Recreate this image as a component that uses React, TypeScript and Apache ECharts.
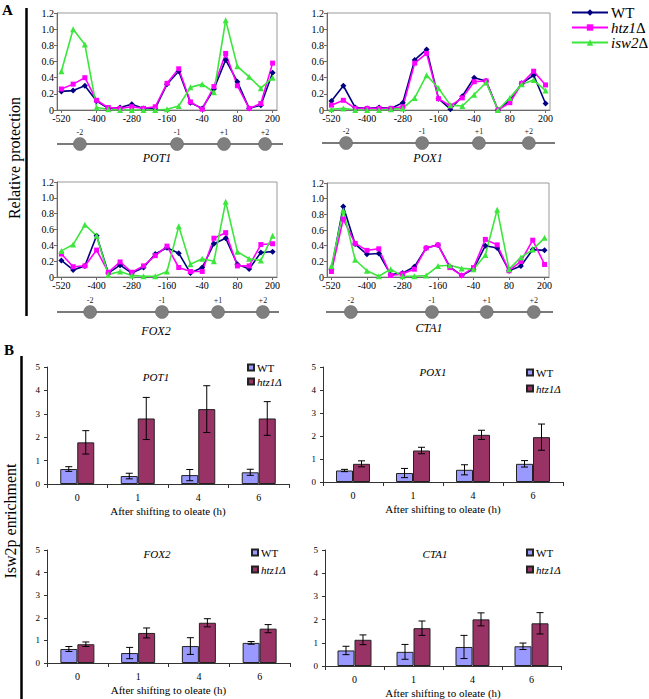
import { useEffect, useRef } from "react";
import * as echarts from "echarts";

// ---------- DATA ----------
const positions = [-520, -480, -440, -400, -360, -320, -280, -240, -200, -160, -120, -80, -40, 0, 40, 80, 120, 160, 200];
const xTickValues = [-520, -400, -280, -160, -40, 80, 200];
const yTickValues = [0, 0.2, 0.4, 0.6, 0.8, 1.0, 1.2];

const pot1WT = [0.23, 0.24, 0.30, 0.11, 0.02, 0.03, 0.07, 0.02, 0.02, 0.32, 0.48, 0.09, 0.02, 0.26, 0.62, 0.35, 0.02, 0.06, 0.46];
const pot1Htz1 = [0.26, 0.32, 0.40, 0.12, 0.03, 0.02, 0.04, 0.02, 0.04, 0.33, 0.51, 0.10, 0.01, 0.29, 0.70, 0.30, 0.02, 0.08, 0.58];
const pot1Isw2 = [0.48, 1.00, 0.81, 0.03, 0.01, 0.00, 0.00, 0.00, 0.00, 0.01, 0.05, 0.28, 0.32, 0.22, 1.11, 0.54, 0.41, 0.27, 0.40];

const pox1WT = [0.11, 0.30, 0.03, 0.02, 0.03, 0.02, 0.09, 0.62, 0.75, 0.14, 0.01, 0.17, 0.40, 0.36, 0.00, 0.12, 0.33, 0.43, 0.08];
const pox1Htz1 = [0.06, 0.12, 0.02, 0.02, 0.02, 0.02, 0.04, 0.58, 0.70, 0.14, 0.05, 0.15, 0.35, 0.36, 0.00, 0.09, 0.33, 0.48, 0.31];
const pox1Isw2 = [0.01, 0.02, 0.00, 0.00, 0.00, 0.01, 0.02, 0.15, 0.43, 0.27, 0.06, 0.05, 0.19, 0.34, 0.00, 0.15, 0.32, 0.37, 0.24];

const fox2WT = [0.21, 0.09, 0.14, 0.52, 0.05, 0.15, 0.05, 0.12, 0.29, 0.37, 0.30, 0.05, 0.12, 0.42, 0.49, 0.16, 0.10, 0.31, 0.32];
const fox2Htz1 = [0.29, 0.13, 0.14, 0.34, 0.06, 0.19, 0.06, 0.14, 0.27, 0.39, 0.12, 0.07, 0.07, 0.49, 0.56, 0.14, 0.14, 0.41, 0.42];
const fox2Isw2 = [0.33, 0.41, 0.66, 0.52, 0.03, 0.07, 0.02, 0.01, 0.01, 0.07, 0.64, 0.16, 0.23, 0.20, 0.95, 0.32, 0.23, 0.21, 0.52];

const cta1WT = [0.10, 0.90, 0.42, 0.29, 0.30, 0.03, 0.05, 0.13, 0.37, 0.41, 0.13, 0.02, 0.10, 0.40, 0.37, 0.08, 0.14, 0.35, 0.34];
const cta1Htz1 = [0.07, 0.74, 0.43, 0.34, 0.36, 0.02, 0.04, 0.10, 0.37, 0.41, 0.12, 0.02, 0.12, 0.48, 0.41, 0.08, 0.20, 0.47, 0.16];
const cta1Isw2 = [0.14, 0.85, 0.22, 0.08, 0.01, 0.10, 0.01, 0.01, 0.02, 0.14, 0.15, 0.11, 0.10, 0.28, 0.86, 0.10, 0.25, 0.35, 0.50];

const nucLabels = ["-2", "-1", "+1", "+2"];
const pot1Nuc = [-457, -126, 34, 174];
const pox1Nuc = [-471, -215, -24, 144];
const fox2Nuc = [-422, -177, 14, 167];
const cta1Nuc = [-454, -180, 5, 164];

const timeCats = ["0", "1", "4", "6"];
const pot1BarWT = [0.64, 0.34, 0.38, 0.5];
const pot1BarWTErr = [0.1, 0.12, 0.24, 0.13];
const pot1BarHtz1 = [1.78, 2.8, 3.2, 2.8];
const pot1BarHtz1Err = [0.5, 0.9, 1.0, 0.72];
const pox1BarWT = [0.5, 0.39, 0.53, 0.79];
const pox1BarWTErr = [0.05, 0.2, 0.22, 0.14];
const pox1BarHtz1 = [0.79, 1.37, 2.05, 1.95];
const pox1BarHtz1Err = [0.13, 0.14, 0.2, 0.57];
const fox2BarWT = [0.62, 0.44, 0.75, 0.89];
const fox2BarWTErr = [0.11, 0.25, 0.37, 0.06];
const fox2BarHtz1 = [0.83, 1.33, 1.78, 1.52];
const fox2BarHtz1Err = [0.1, 0.22, 0.18, 0.18];
const cta1BarWT = [0.67, 0.61, 0.82, 0.85];
const cta1BarWTErr = [0.18, 0.32, 0.5, 0.14];
const cta1BarHtz1 = [1.13, 1.63, 2.01, 1.84];
const cta1BarHtz1Err = [0.21, 0.31, 0.28, 0.46];

// ---------- LAYOUT / STYLE ----------
const SERIF = "'Liberation Serif', 'Times New Roman', serif";
const C_WT = "#000080";
const C_HTZ = "#FF00FF";
const C_ISW = "#3CE63C";
const C_BAR_WT = "#9999FF";
const C_BAR_HTZ = "#993366";

const linePanels = [
  { gene: "POT1", wt: pot1WT, htz: pot1Htz1, isw: pot1Isw2, nuc: pot1Nuc,
    grid: { left: 57, top: 13, width: 220, height: 97 },
    track: { left: 57, width: 226, y: 144, min: -535, max: 235 },
    label: { x: 157, y: 158 } },
  { gene: "POX1", wt: pox1WT, htz: pox1Htz1, isw: pox1Isw2, nuc: pox1Nuc,
    grid: { left: 327, top: 13, width: 223, height: 97 },
    track: { left: 322, width: 233, y: 143, min: -552, max: 232 },
    label: { x: 428, y: 158 } },
  { gene: "FOX2", wt: fox2WT, htz: fox2Htz1, isw: fox2Isw2, nuc: fox2Nuc,
    grid: { left: 57, top: 182, width: 220, height: 95 },
    track: { left: 57, width: 222, y: 312, min: -535, max: 222 },
    label: { x: 156, y: 331 } },
  { gene: "CTA1", wt: cta1WT, htz: cta1Htz1, isw: cta1Isw2, nuc: cta1Nuc,
    grid: { left: 327, top: 183, width: 222, height: 94 },
    track: { left: 326, width: 227, y: 312, min: -538, max: 229 },
    label: { x: 429, y: 328 } },
];

const barPanels = [
  { gene: "POT1", wt: pot1BarWT, wtErr: pot1BarWTErr, htz: pot1BarHtz1, htzErr: pot1BarHtz1Err,
    grid: { left: 47, top: 367, width: 242, height: 117 },
    title: { x: 156, y: 377 }, legend: { left: 247, top: 362, gap: 3 } },
  { gene: "POX1", wt: pox1BarWT, wtErr: pox1BarWTErr, htz: pox1BarHtz1, htzErr: pox1BarHtz1Err,
    grid: { left: 323, top: 367, width: 240, height: 115 },
    title: { x: 433, y: 372 }, legend: { left: 526, top: 367, gap: 5 } },
  { gene: "FOX2", wt: fox2BarWT, wtErr: fox2BarWTErr, htz: fox2BarHtz1, htzErr: fox2BarHtz1Err,
    grid: { left: 47, top: 550, width: 243, height: 113 },
    title: { x: 157, y: 554 }, legend: { left: 251, top: 547, gap: 6 } },
  { gene: "CTA1", wt: cta1BarWT, wtErr: cta1BarWTErr, htz: cta1BarHtz1, htzErr: cta1BarHtz1Err,
    grid: { left: 325, top: 550, width: 236, height: 118 },
    title: { x: 435, y: 554 }, legend: { left: 526, top: 547, gap: 6 } },
];

const BAR_W = 17;

function buildOption() {
  const grid: any[] = [];
  const xAxis: any[] = [];
  const yAxis: any[] = [];
  const series: any[] = [];
  const graphic: any[] = [];
  const legend: any[] = [];

  // Line panels
  linePanels.forEach((p, i) => {
    grid.push({ ...p.grid, show: true, borderColor: "#9a9a9a", borderWidth: 1, backgroundColor: "transparent" });
    xAxis.push({
      gridIndex: i, type: "value", min: -535, max: 215,
      axisLine: { show: true, onZero: false, lineStyle: { color: "#6a6a6a" } },
      axisTick: { show: true, length: 3, inside: false, customValues: xTickValues, lineStyle: { color: "#6a6a6a" } },
      axisLabel: { customValues: xTickValues, fontFamily: SERIF, fontSize: 10, color: "#000", margin: 3 },
      splitLine: { show: false },
    });
    yAxis.push({
      gridIndex: i, type: "value", min: 0, max: 1.2,
      axisLine: { show: true, onZero: false, lineStyle: { color: "#6a6a6a" } },
      axisTick: { show: true, length: 3, customValues: yTickValues, lineStyle: { color: "#6a6a6a" } },
      axisLabel: {
        customValues: yTickValues, fontFamily: SERIF, fontSize: 10, color: "#000", margin: 3,
        formatter: (v: number) => (Math.abs(v) < 1e-9 ? "0" : v.toFixed(1)),
      },
      splitLine: { show: false },
    });
    const mk = (name: string, vals: number[], color: string, symbol: string, size: number) => ({
      type: "line", name, xAxisIndex: i, yAxisIndex: i,
      data: positions.map((x, k) => [x, vals[k]]),
      symbol, symbolSize: size, showSymbol: true,
      itemStyle: { color }, lineStyle: { color, width: 1.6 },
      silent: true,
    });
    series.push(mk("WT", p.wt, C_WT, "diamond", 6));
    series.push(mk("htz1Δ", p.htz, C_HTZ, "rect", 5));
    series.push(mk("isw2Δ", p.isw, C_ISW, "triangle", 6));

    graphic.push({
      type: "text", x: p.label.x, y: p.label.y,
      style: { text: p.gene, font: `italic 12px ${SERIF}`, fill: "#000", textAlign: "center", textVerticalAlign: "middle" },
    });
  });

  // Nucleosome tracks
  linePanels.forEach((p, i) => {
    const gi = 4 + i;
    grid.push({ left: p.track.left, width: p.track.width, top: p.track.y - 10, height: 20 });
    xAxis.push({ gridIndex: gi, type: "value", min: p.track.min, max: p.track.max, show: false });
    yAxis.push({ gridIndex: gi, type: "value", min: -1, max: 1, show: false });
    series.push({
      type: "line", xAxisIndex: gi, yAxisIndex: gi, silent: true, symbol: "none",
      data: [[p.track.min, 0], [p.track.max, 0]],
      lineStyle: { color: "#7a7a7a", width: 2 },
    });
    series.push({
      type: "scatter", xAxisIndex: gi, yAxisIndex: gi, silent: true,
      symbolSize: 13,
      data: p.nuc.map((x) => [x, 0]),
      itemStyle: { color: "#7f7f7f", borderColor: "#666", borderWidth: 0.5, opacity: 1 },
      label: {
        show: true, position: "top", distance: 1,
        formatter: (prm: any) => nucLabels[prm.dataIndex],
        fontFamily: SERIF, fontSize: 8, color: "#222",
      },
      z: 3,
    });
  });

  // Bar panels
  barPanels.forEach((p, j) => {
    const gi = 8 + j;
    grid.push({ ...p.grid });
    xAxis.push({
      gridIndex: gi, type: "category", data: timeCats, boundaryGap: true,
      axisLine: { show: true, lineStyle: { color: "#333" } },
      axisTick: { show: true, length: 4, lineStyle: { color: "#333" } },
      axisLabel: { fontFamily: SERIF, fontSize: 10, color: "#000", margin: 8 },
      name: "After shifting to oleate (h)", nameLocation: "middle", nameGap: 21,
      nameTextStyle: { fontFamily: SERIF, fontSize: 11, color: "#000" },
    });
    yAxis.push({
      gridIndex: gi, type: "value", min: 0, max: 5, interval: 1,
      axisLine: { show: true, lineStyle: { color: "#333" } },
      axisTick: { show: true, length: 3, lineStyle: { color: "#333" } },
      axisLabel: { fontFamily: SERIF, fontSize: 9, color: "#000", margin: 7 },
      splitLine: { show: false },
    });
    series.push({
      type: "bar", name: "WT_B", xAxisIndex: gi, yAxisIndex: gi, data: p.wt,
      barWidth: BAR_W, barGap: "0%",
      itemStyle: { color: C_BAR_WT, borderColor: "#222", borderWidth: 1 },
      silent: true,
    });
    series.push({
      type: "bar", name: "htz1_B", xAxisIndex: gi, yAxisIndex: gi, data: p.htz,
      barWidth: BAR_W, barGap: "0%",
      itemStyle: { color: C_BAR_HTZ, borderColor: "#222", borderWidth: 1 },
      silent: true,
    });
    const errSeries = (vals: number[], errs: number[], offset: number) => ({
      type: "custom", xAxisIndex: gi, yAxisIndex: gi, silent: true, z: 10,
      data: vals.map((v, k) => [k, v, errs[k]]),
      encode: { x: 0, y: 1 },
      renderItem: (_params: any, api: any) => {
        const c = api.value(0);
        const v = api.value(1);
        const e = api.value(2);
        const top = api.coord([c, v + e]);
        const bot = api.coord([c, v - e]);
        const x = top[0] + offset;
        const hw = 3.5;
        const st = { stroke: "#000", lineWidth: 1 };
        return {
          type: "group",
          children: [
            { type: "line", shape: { x1: x, y1: top[1], x2: x, y2: bot[1] }, style: st },
            { type: "line", shape: { x1: x - hw, y1: top[1], x2: x + hw, y2: top[1] }, style: st },
            { type: "line", shape: { x1: x - hw, y1: bot[1], x2: x + hw, y2: bot[1] }, style: st },
          ],
        };
      },
    });
    series.push(errSeries(p.wt, p.wtErr, -BAR_W / 2));
    series.push(errSeries(p.htz, p.htzErr, BAR_W / 2));

    legend.push({
      data: ["WT_B", "htz1_B"], left: p.legend.left, top: p.legend.top, orient: "vertical",
      padding: 0,
      itemWidth: 6, itemHeight: 6, itemGap: p.legend.gap, icon: "rect", selectedMode: false,
      formatter: (n: string) => (n === "WT_B" ? "WT" : "{i|htz1Δ}"),
      textStyle: {
        fontFamily: SERIF, fontSize: 11, color: "#000", padding: [0, 0, 0, -2],
        rich: { i: { fontFamily: SERIF, fontSize: 11, fontStyle: "italic", color: "#000" } },
      },
    });
    graphic.push({
      type: "text", x: p.title.x, y: p.title.y,
      style: { text: p.gene, font: `italic 11px ${SERIF}`, fill: "#000", textAlign: "center", textVerticalAlign: "middle" },
    });
  });

  legend.push({
    data: ["WT", "htz1Δ", "isw2Δ"], left: 571, top: 5, orient: "vertical",
    padding: 0,
    itemWidth: 36, itemHeight: 8, itemGap: 0, selectedMode: false,
    formatter: (n: string) => (n === "WT" ? "WT" : `{i|${n.slice(0, -1)}}Δ`),
    textStyle: {
      fontFamily: SERIF, fontSize: 15, color: "#000", padding: [0, 0, 0, -2],
      rich: { i: { fontFamily: SERIF, fontSize: 15, fontStyle: "italic", color: "#000" } },
    },
  });

  // Decorations: panel letters, axis titles, brackets
  graphic.push(
    { type: "text", x: 2, y: 2, style: { text: "A", font: `bold 15px ${SERIF}`, fill: "#000" } },
    { type: "line", shape: { x1: 26.5, y1: 8, x2: 26.5, y2: 316 }, style: { stroke: "#000", lineWidth: 2.5 } },
    { type: "text", x: 14, y: 158, rotation: Math.PI / 2,
      style: { text: "Relative protection", font: `16px ${SERIF}`, fill: "#000", textAlign: "center", textVerticalAlign: "middle" } },
    { type: "text", x: 4, y: 342, style: { text: "B", font: `bold 15px ${SERIF}`, fill: "#000" } },
    { type: "line", shape: { x1: 21.5, y1: 356, x2: 21.5, y2: 699 }, style: { stroke: "#000", lineWidth: 2.5 } },
    { type: "text", x: 10, y: 521, rotation: Math.PI / 2,
      style: { text: "Isw2p enrichment", font: `16px ${SERIF}`, fill: "#000", textAlign: "center", textVerticalAlign: "middle" } },
  );

  return {
    animation: false,
    backgroundColor: "#fff",
    grid, xAxis, yAxis, series, legend, graphic,
  };
}

export default function App() {
  const ref = useRef<HTMLDivElement>(null);
  useEffect(() => {
    if (!ref.current) return;
    const chart = echarts.init(ref.current, null, { renderer: "svg" });
    chart.setOption(buildOption() as any);
    return () => chart.dispose();
  }, []);
  return (
    <div
      ref={ref}
      style={{ position: "absolute", left: 0, top: 0, width: 649, height: 699, background: "#fff" }}
    />
  );
}
